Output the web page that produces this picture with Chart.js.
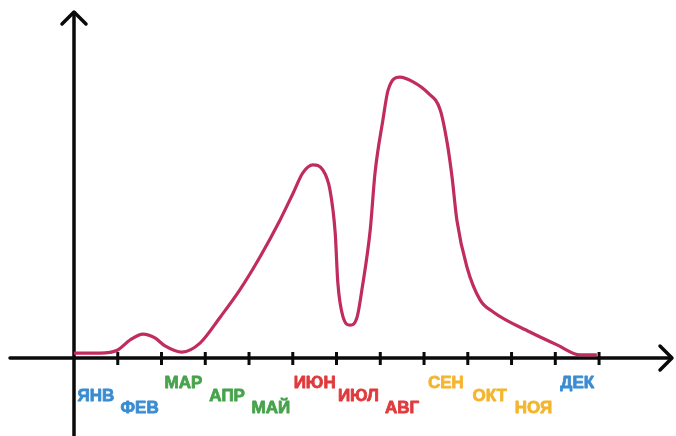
<!DOCTYPE html>
<html>
<head>
<meta charset="utf-8">
<script src="https://cdn.jsdelivr.net/npm/chart.js@4/dist/chart.umd.min.js"></script>
<style>
  html, body { margin: 0; padding: 0; background: #ffffff; }
  #wrap { width: 676px; height: 436px; }
</style>
</head>
<body>
<div id="wrap"><canvas id="c" width="676" height="436"></canvas></div>
<script>
// Month labels (placed between ticks) and their season colours
const months = ['ЯНВ', 'ФЕВ', 'МАР', 'АПР', 'МАЙ', 'ИЮН', 'ИЮЛ', 'АВГ', 'СЕН', 'ОКТ', 'НОЯ', 'ДЕК'];
const monthColors = ['#3a8cd2', '#3a8cd2', '#46a34c', '#46a34c', '#46a34c', '#e03a3c',
                     '#e03a3c', '#e03a3c', '#f4b52e', '#f4b52e', '#f4b52e', '#3a8cd2'];
// Row of each label: 0 = first month of season, 1 = second, 2 = third
const monthRows = [1, 2, 0, 1, 2, 0, 1, 2, 0, 1, 2, 0];

// Curve: position along the year (0..12) and relative level
const curveX = [0, 0.59, 1.0, 1.28, 1.58, 1.85, 2.08, 2.47, 2.88, 3.34, 3.79, 4.25, 4.71,
                5.01, 5.23, 5.46, 5.69, 5.85, 5.97, 6.03, 6.15, 6.31, 6.47, 6.58, 6.77,
                6.88, 7.06, 7.18, 7.45, 7.75, 8.09, 8.37, 8.53, 8.64, 8.75, 8.98, 9.28,
                9.58, 10.42, 11.04, 11.57, 11.95];
const curveY = [1.4, 1.4, 2.3, 5.2, 6.9, 5.8, 3.5, 1.7, 4.3, 11.8, 19.7, 29.2, 39.9,
                47.7, 53.5, 55.8, 54.3, 48.6, 36.1, 21.7, 11.8, 9.5, 11.8, 19.7, 37.0,
                53.5, 68.8, 77.5, 81.2, 79.8, 76.6, 71.7, 62.1, 52.3, 39.9, 26.3, 16.8,
                13.3, 7.5, 3.8, 0.9, 0.9];

const points = curveX.map((x, i) => ({ x: x, y: curveY[i] }));

// Hand-drawn style axes with arrows and tick marks
const axesPlugin = {
  id: 'arrowAxes',
  beforeDatasetsDraw(chart) {
    const { ctx, scales } = chart;
    const xs = scales.x, ys = scales.y;
    const x0 = xs.getPixelForValue(0);
    const y0 = ys.getPixelForValue(0);
    const xEnd = xs.right;
    const yTop = ys.top;
    ctx.save();
    ctx.strokeStyle = '#0a0a0a';
    ctx.lineWidth = 3.5;
    ctx.lineCap = 'round';
    ctx.lineJoin = 'round';
    // horizontal axis
    ctx.beginPath();
    ctx.moveTo(10, y0);
    ctx.lineTo(xEnd - 2, y0);
    ctx.stroke();
    ctx.beginPath();
    ctx.moveTo(xEnd - 13, y0 - 12);
    ctx.lineTo(xEnd - 1, y0);
    ctx.lineTo(xEnd - 13, y0 + 12);
    ctx.stroke();
    // vertical axis
    ctx.beginPath();
    ctx.moveTo(x0, chart.height);
    ctx.lineTo(x0, yTop + 1);
    ctx.stroke();
    ctx.beginPath();
    ctx.moveTo(x0 - 12, yTop + 12);
    ctx.lineTo(x0, yTop);
    ctx.lineTo(x0 + 12, yTop + 12);
    ctx.stroke();
    // month ticks
    ctx.lineWidth = 3;
    ctx.lineCap = 'butt';
    for (let i = 1; i <= 12; i++) {
      const px = xs.getPixelForValue(i);
      ctx.beginPath();
      ctx.moveTo(px, y0 - 6);
      ctx.lineTo(px, y0 + 7);
      ctx.stroke();
    }
    ctx.restore();
  },
  afterDraw(chart) {
    const { ctx, scales } = chart;
    const xs = scales.x, ys = scales.y;
    const y0 = ys.getPixelForValue(0);
    const rowY = [25, 38, 50];
    ctx.save();
    ctx.font = 'bold 17px "Liberation Sans", Arial, sans-serif';
    ctx.textAlign = 'center';
    ctx.textBaseline = 'middle';
    ctx.lineWidth = 0.8;
    ctx.lineJoin = 'round';
    months.forEach((m, i) => {
      const px = xs.getPixelForValue(i + 0.5);
      const py = y0 + rowY[monthRows[i]];
      ctx.fillStyle = monthColors[i];
      ctx.strokeStyle = monthColors[i];
      ctx.fillText(m, px, py);
      ctx.strokeText(m, px, py);
    });
    ctx.restore();
  }
};

new Chart(document.getElementById('c'), {
  type: 'line',
  data: {
    datasets: [{
      data: points,
      borderColor: '#c02c5c',
      borderWidth: 3.2,
      pointRadius: 0,
      fill: false,
      cubicInterpolationMode: 'monotone',
      clip: false
    }]
  },
  options: {
    responsive: false,
    animation: false,
    events: [],
    layout: { padding: { left: 74, right: 3, top: 12, bottom: 78 } },
    plugins: { legend: { display: false }, tooltip: { enabled: false } },
    scales: {
      x: { type: 'linear', min: 0, max: 13.69, display: false },
      y: { type: 'linear', min: 0, max: 100, display: false }
    }
  },
  plugins: [axesPlugin]
});
</script>
</body>
</html>
